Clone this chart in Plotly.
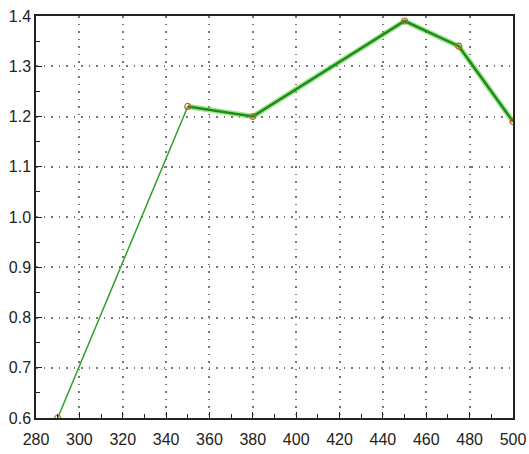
import plotly.graph_objects as go

x_vals = [290, 350, 380, 450, 475, 500]
y_vals = [0.6, 1.22, 1.2, 1.39, 1.34, 1.19]
x_ticks = [280, 300, 320, 340, 360, 380, 400, 420, 440, 460, 480, 500]
y_ticks = [0.6, 0.7, 0.8, 0.9, 1.0, 1.1, 1.2, 1.3, 1.4]

fig = go.Figure()
fig.add_trace(go.Scatter(x=x_vals[:2], y=y_vals[:2], mode="lines",
                         line=dict(color="#2ea02e", width=1.5), hoverinfo="skip"))
fig.add_trace(go.Scatter(x=x_vals[1:], y=y_vals[1:], mode="lines",
                         line=dict(color="rgba(110,220,80,0.65)", width=5.5), hoverinfo="skip"))
fig.add_trace(go.Scatter(x=x_vals[1:], y=y_vals[1:], mode="lines",
                         line=dict(color="#1f8a1f", width=2.5), hoverinfo="skip"))
fig.add_trace(go.Scatter(x=x_vals, y=y_vals, mode="markers",
                         marker=dict(symbol="circle-open", size=6,
                                     color="#c0602a", line=dict(width=1.2))))

axis_common = dict(
    showline=True, linecolor="#222222", linewidth=1.5, mirror=True,
    ticks="inside", ticklen=6, tickcolor="#222222", tickwidth=1,
    showgrid=True, gridcolor="#777777", griddash="1.5px,6px", gridwidth=1.5,
    zeroline=False, automargin=False, ticklabeloverflow="allow",
    tickfont=dict(family="Liberation Sans", size=16, color="#222222"),
)

fig.update_xaxes(range=[280, 500], tickvals=x_ticks, ticktext=[str(v) for v in x_ticks],
                 ticklabelstandoff=6,
                 minor=dict(dtick=10, tick0=280, ticks="inside", ticklen=4, tickcolor="#222222", showgrid=False),
                 **axis_common)
fig.update_yaxes(range=[0.6, 1.4], tickvals=y_ticks, ticktext=[f"{v:.1f}" for v in y_ticks],
                 minor=dict(dtick=0.05, tick0=0.6, ticks="inside", ticklen=4, tickcolor="#222222", showgrid=False),
                 **axis_common)

fig.update_layout(width=529, height=454, showlegend=False,
                  plot_bgcolor="white", paper_bgcolor="white",
                  margin=dict(l=36, r=16, t=16, b=36))
fig.write_html("out.html", config={"displayModeBar": False},
               post_script="document.body.style.margin='0';document.body.style.overflow='hidden';")
